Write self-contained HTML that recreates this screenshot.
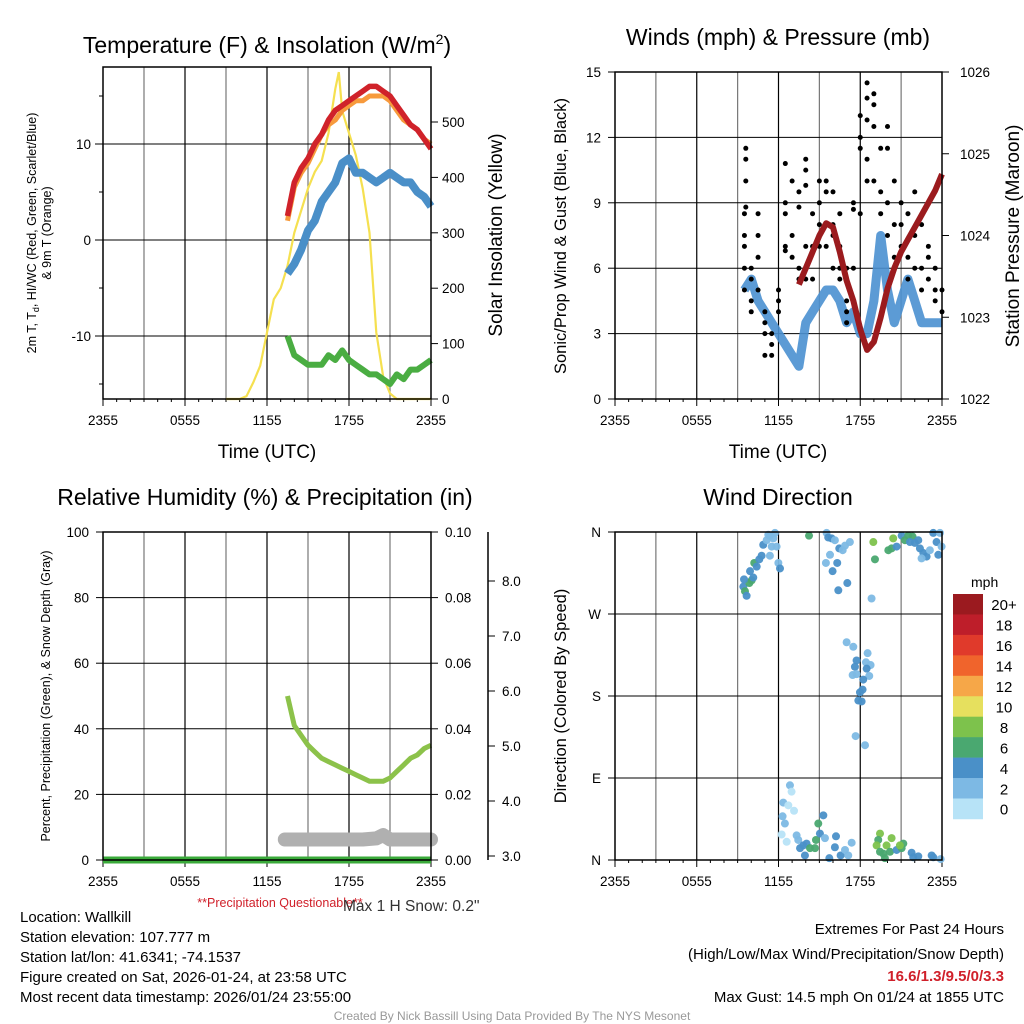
<!DOCTYPE html>
<html><head><meta charset="utf-8"><style>
body{margin:0;background:#fff;}
svg{display:block;font-family:"Liberation Sans",sans-serif;}
</style></head><body>
<svg id="c" width="1024" height="1024" viewBox="0 0 1024 1024">
<rect width="1024" height="1024" fill="#fff"/>
<g id="layer"></g>
<text x="267" y="53" font-size="23" text-anchor="middle">Temperature (F) &amp; Insolation (W/m<tspan dy="-9" font-size="14">2</tspan><tspan dy="9">)</tspan></text>
<text x="778" y="45" font-size="23" text-anchor="middle">Winds (mph) &amp; Pressure (mb)</text>
<text x="265" y="505" font-size="23" text-anchor="middle">Relative Humidity (%) &amp; Precipitation (in)</text>
<text x="778" y="505" font-size="23" text-anchor="middle">Wind Direction</text>
<text x="267" y="458" font-size="19" text-anchor="middle">Time (UTC)</text>
<text x="778" y="458" font-size="19" text-anchor="middle">Time (UTC)</text>
<text transform="translate(36,233) rotate(-90)" font-size="12.5" text-anchor="middle">2m T, T<tspan font-size="9" dy="3">d</tspan><tspan dy="-3">, HI/WC (Red, Green, Scarlet/Blue)</tspan></text>
<text transform="translate(51,233) rotate(-90)" font-size="12.5" text-anchor="middle">&amp; 9m T (Orange)</text>
<text transform="translate(502,235) rotate(-90)" font-size="19" text-anchor="middle">Solar Insolation (Yellow)</text>
<text transform="translate(566,236) rotate(-90)" font-size="16.5" text-anchor="middle">Sonic/Prop Wind &amp; Gust (Blue, Black)</text>
<text transform="translate(1019,236) rotate(-90)" font-size="19" text-anchor="middle">Station Pressure (Maroon)</text>
<text transform="translate(50,696) rotate(-90)" font-size="12.5" text-anchor="middle">Percent, Precipitation (Green), &amp; Snow Depth (Gray)</text>
<text transform="translate(566,696) rotate(-90)" font-size="16.5" text-anchor="middle">Direction (Colored By Speed)</text>
<text x="280" y="907" font-size="12.5" fill="#d0202a" text-anchor="middle">**Precipitation Questionable**</text>
<text x="343" y="911" font-size="15.5" fill="#333">Max 1 H Snow: 0.2"</text>
<g font-size="15">
<text x="20" y="922">Location: Wallkill</text>
<text x="20" y="942">Station elevation: 107.777 m</text>
<text x="20" y="962">Station lat/lon: 41.6341; -74.1537</text>
<text x="20" y="982">Figure created on Sat, 2026-01-24, at 23:58 UTC</text>
<text x="20" y="1002">Most recent data timestamp: 2026/01/24 23:55:00</text>
</g>
<g font-size="15" text-anchor="end">
<text x="1004" y="934">Extremes For Past 24 Hours</text>
<text x="1004" y="959">(High/Low/Max Wind/Precipitation/Snow Depth)</text>
<text x="1004" y="981" fill="#d0202a" font-weight="bold">16.6/1.3/9.5/0/3.3</text>
<text x="1004" y="1002">Max Gust: 14.5 mph On 01/24 at 1855 UTC</text>
</g>
<text x="512" y="1020" font-size="12" fill="#999" text-anchor="middle">Created By Nick Bassill Using Data Provided By The NYS Mesonet</text>
<text x="971" y="587" font-size="14">mph</text>
</svg>
<script>
const xTickLabels=["2355","0555","1155","1755","2355"];
const tempHours=[13.5,14,14.5,15,15.5,16,16.5,17,17.5,18,18.5,19,19.5,20,20.5,21,21.5,22,22.5,23,23.5,24];
const temp2m=[2.5,6,7.5,8.5,10,11,12.5,13.5,14,14.5,15,15.5,16,16,15.5,15,14,13,12,11.5,10.5,9.5];
const temp9m=[2,5.5,7,8,9.5,11,12,12.5,13.5,14,14.5,14.5,15,15,15,14.5,13.5,12.5,12,11.5,10.5,10];
const windChill=[-3.5,-2.5,-1,1,2,4,5,6,8,8.5,7,7,6.5,6,6.5,7,6.5,6,6,5,4.5,3.5];
const dewPoint=[-10,-12,-12.5,-13,-13,-13,-12,-12.5,-11.5,-12.5,-13,-13.5,-14,-14,-14.5,-15,-14,-14.5,-13.5,-13.5,-13,-12.5];
const solarHours=[9,9.5,10,10.5,11,11.5,12,12.5,13,13.5,14,14.5,15,15.5,16,16.5,17,17.25,17.5,18,18.5,19,19.5,20,20.5,21,21.5,22,24];
const solarVals=[0,0,0,5,30,60,120,180,200,240,300,340,380,410,430,480,560,590,520,480,440,380,300,120,40,10,0,0,0];
const tempTicks=[-10,0,10];
const solarTicks=[0,100,200,300,400,500];

const windHours=[9.5,10,10.5,11,11.5,12,12.5,13,13.5,14,14.5,15,15.5,16,16.5,17,17.5,18,18.5,19,19.5,20,20.5,21,21.5,22,22.5,23,23.5,24];
const windVals=[5,5.5,4.5,4,3.5,3,2.5,2,1.5,3.5,4,4.5,5,5,4.5,3.5,4,3,3,4.5,7.5,5,3.5,4.5,5.5,4.5,3.5,3.5,3.5,3.5];
const gustHours=[9.5,9.5,9.5,9.5,9.5,9.6,9.6,9.6,9.6,10,10,10,10,10.5,10.5,10.5,10.5,11,11,11,11,11.5,11.5,11.5,12,12,12,12.5,12.5,12.5,12.5,12.5,13,13,13,13.5,13.5,13.5,13.5,14,14,14,14,14,14.5,14.5,14.5,15,15,15,15,15.5,15.5,15.5,16,16,16,16,16.5,16.5,16.5,16.5,17,17,17,17,17.5,17.5,17.5,18,18,18,18,18.5,18.5,18.5,18.5,18.5,19,19,19,19,19.5,19.5,19.5,20,20,20,20,20.5,20.5,20.5,21,21,21,21.5,21.5,21.5,22,22,22,22.5,22.5,22.5,23,23,23,23.5,23.5,23.5,24,24];
const gustVals=[7.5,8.5,7,6,5,11,11.5,10,8.8,6,5.5,4.5,4,8.5,7.5,6.5,5,4,3.5,3,2,3,2.5,2,5,4,4.5,6.8,7,9,10.8,8.5,6.5,7.5,10,5.5,6,8.8,9.5,9.8,10.5,11,7,5.5,8.5,7,5.5,8,9,10,7,7,9.5,10,8,6,7.5,9.5,6,7,8.5,5.5,4.5,4,3.5,6,8.7,9,6,11.5,12,13,8.5,14.5,13.8,12.8,11,10,14,12.5,13.5,10,11.5,9.5,8.5,12.5,11.5,9,7.5,10,8,6.5,8,7,9,8.5,6.5,5.5,9.5,7.5,6,8,6,5,6.5,5.5,7,5,4.5,6,4,5];
const presHours=[13.5,14,14.5,15,15.5,16,16.5,17,17.5,18,18.5,19,19.5,20,20.5,21,21.5,22,22.5,23,23.5,24];
const presVals=[1023.4,1023.6,1023.8,1024.0,1024.15,1024.1,1023.8,1023.45,1023.2,1022.85,1022.6,1022.7,1023.0,1023.35,1023.6,1023.8,1023.95,1024.1,1024.25,1024.4,1024.55,1024.75];
const windTicks=[0,3,6,9,12,15];
const presTicks=[1022,1023,1024,1025,1026];

const rhHours=[13.5,14,14.5,15,15.5,16,16.5,17,17.5,18,18.5,19,19.5,20,20.5,21,21.5,22,22.5,23,23.5,24];
const rhVals=[50,41,38,35,33,31,30,29,28,27,26,25,24,24,24,25,27,29,31,32,34,35];
const precipHours=[0,24];
const precipVals=[0,0];
const snowHours=[13.3,14,15,16,17,18,19,20,20.5,21,22,23,24];
const snowVals=[3.3,3.3,3.3,3.3,3.3,3.3,3.3,3.32,3.38,3.3,3.3,3.3,3.3];
const rhTicks=[0,20,40,60,80,100];
const precipTicks=["0.00","0.02","0.04","0.06","0.08","0.10"];
const snowTicks=["3.0","4.0","5.0","6.0","7.0","8.0"];

const dirHours=[9.42,9.54,9.66,9.86,10.03,10.15,9.47,9.91,10.22,10.4,10.59,10.76,10.88,11.13,11.37,11.5,11.62,11.37,11.86,11.99,12.11,11.74,11.25,
14.24,15.53,15.65,15.9,16.14,15.78,15.48,15.97,16.31,16.46,16.71,16.88,17.24,16.39,17.05,18.83,18.96,19.08,
20.06,20.3,20.42,20.67,21.04,21.28,21.52,21.84,21.65,22.01,22.26,22.38,22.63,22.87,22.5,23.11,23.36,23.6,23.73,23.85,23.97,
17.0,17.49,18.54,17.73,17.61,18.42,18.76,18.47,17.44,17.73,18.66,18.22,18.17,17.98,17.86,18.1,17.66,18.35,
12.84,12.96,12.35,12.72,13.14,12.3,12.47,12.23,12.6,13.33,13.45,13.82,13.58,14.06,13.94,14.31,14.68,14.75,15.04,14.92,15.29,15.41,15.73,16.22,16.14,16.56,16.88,17.12,17.37,
19.45,19.32,19.2,19.45,19.69,19.93,19.81,20.3,20.18,20.67,21.04,21.16,20.91,21.77,21.89,22.26,23.24,23.36,23.9];
const dirDegrees=[300,295,290,304,307,310,308,317,326,322,330,334,346,351,356,344,353,334,344,326,320,359,357,
356,359,354,353,351,335,326,317,326,342,340,345,349,296,304,287,349,330,
340,342,353,344,356,351,356,355,349,348,351,342,337,333,331,340,359,349,335,359,344,
239,234,227,219,212,217,214,210,203,204,202,198,187,184,175,174,136,126,
82,75,63,60,54,48,40,28,20,27,22,16,13,18,5,13,13,22,29,40,49,24,2,26,14,5,11,5,19,
29,22,16,9,7,16,2,24,9,11,13,18,16,8,3,4,5,3,1];
const dirSpeeds=[5,7,5,7,7,5,5,5,7,5,5,5,5,3,3,3,3,3,3,3,5,3,3,
7,3,5,5,3,3,3,5,5,5,3,3,3,5,5,3,9,7,
7,7,9,5,5,7,7,7,5,5,5,5,5,5,3,3,5,5,5,3,3,
3,3,3,5,5,3,3,5,3,3,3,5,5,5,5,5,3,3,
3,1,3,1,1,3,3,1,1,3,3,5,5,5,5,7,7,7,5,7,5,3,5,5,5,5,3,3,3,
9,7,9,7,7,9,7,9,7,5,7,7,9,5,5,5,5,5,3];
const cbLabels=["20+","18","16","14","12","10","8","6","4","2","0"];
const cbColors=["#9b1a1f","#be1e2a","#e03a2b","#f0642c","#f6a748","#e6e05e","#7dc24c","#4aa870","#4a90c8","#7db9e4","#b7e3f7"];
const dirLabels=["N","E","S","W","N"];
const dirTicks=[0,90,180,270,360];

const NS="http://www.w3.org/2000/svg";
const layer=document.getElementById('layer');
function mk(tag,attrs,parent){const e=document.createElementNS(NS,tag);for(const k in attrs)e.setAttribute(k,attrs[k]);(parent||layer).appendChild(e);return e;}
function lin(d0,d1,r0,r1){return v=>r0+(v-d0)/(d1-d0)*(r1-r0);}
function pathD(xs,ys,fx,fy){return xs.map((h,i)=>(i?'L':'M')+fx(h).toFixed(1)+','+fy(ys[i]).toFixed(1)).join('');}
function frame(L,T,R,B,name){
  const g=mk('g',{});
  
  
  const fx=lin(0,24,L,R);
  for(let h=3;h<24;h+=3){const l=mk('line',{x1:fx(h),x2:fx(h),y1:T,y2:B,stroke:h%6?'#777':'#000','stroke-width':1.2},g);}
  for(let h=0;h<=24;h+=1){mk('line',{x1:fx(h),x2:fx(h),y1:B,y2:B+(h%6?3:7),stroke:'#000','stroke-width':1},g);}
  xTickLabels.forEach((s,i)=>{const t=mk('text',{x:fx(i*6),y:B+26,'font-size':13.5,'text-anchor':'middle'},g);t.textContent=s;});
  return {g,fx};
}
function box(L,T,R,B){mk('rect',{x:L,y:T,width:R-L,height:B-T,fill:'none',stroke:'#000','stroke-width':1.5});}

(function(){
  const L=103,T=67,R=431,B=399;
  const {fx}=frame(L,T,R,B,'temperature-plot');
  const fy=lin(0,10,240,144), fs=lin(0,500,399,122);
  tempTicks.forEach(v=>{mk('line',{x1:L,x2:R,y1:fy(v),y2:fy(v),stroke:'#000','stroke-width':1});
    const t=mk('text',{x:L-12,y:fy(v)+5,'font-size':13.5,'text-anchor':'end'});t.textContent=v;
    });
  for(let v=-15;v<=15;v+=5)mk('line',{x1:L-(v%10?4:8),x2:L,y1:fy(v),y2:fy(v),stroke:'#000'});
  solarTicks.forEach(v=>{mk('line',{x1:R,x2:R+7,y1:fs(v),y2:fs(v),stroke:'#000'});
    const t=mk('text',{x:R+11,y:fs(v)+5,'font-size':13.5});t.textContent=v;
    });
  let p;
  p=mk('path',{d:pathD(solarHours,solarVals,fx,fs),fill:'none',stroke:'#f5e050','stroke-width':2.2});
  p=mk('path',{d:pathD(tempHours,dewPoint,fx,fy),fill:'none',stroke:'#4aad42','stroke-width':6,'stroke-linejoin':'round'});
  p=mk('path',{d:pathD(tempHours,windChill,fx,fy),fill:'none',stroke:'#4a8fc8','stroke-width':8,'stroke-linejoin':'round'});
  p=mk('path',{d:pathD(tempHours,temp9m,fx,fy),fill:'none',stroke:'#f79a3c','stroke-width':5,'stroke-linejoin':'round'});
  p=mk('path',{d:pathD(tempHours,temp2m,fx,fy),fill:'none',stroke:'#d0222a','stroke-width':5.5,'stroke-linejoin':'round'});
  box(L,T,R,B);
})();

(function(){
  const L=615,T=72,R=942,B=399;
  const {fx}=frame(L,T,R,B,'wind-plot');
  const fy=lin(0,15,399,72), fp=lin(1022,1026,399,72);
  windTicks.forEach(v=>{if(v>0&&v<15)mk('line',{x1:L,x2:R,y1:fy(v),y2:fy(v),stroke:'#000','stroke-width':1});
    mk('line',{x1:L-7,x2:L,y1:fy(v),y2:fy(v),stroke:'#000'});
    const t=mk('text',{x:L-14,y:fy(v)+5,'font-size':13.5,'text-anchor':'end'});t.textContent=v;
    });
  presTicks.forEach(v=>{mk('line',{x1:R,x2:R+7,y1:fp(v),y2:fp(v),stroke:'#000'});
    const t=mk('text',{x:R+18,y:fp(v)+5,'font-size':13.5});t.textContent=v;
    });
  let p=mk('path',{d:pathD(windHours,windVals,fx,fy),fill:'none',stroke:'#4a90d0','stroke-width':9,'stroke-linejoin':'round','stroke-opacity':0.9});
  
  gustHours.forEach((h,i)=>{const c=mk('circle',{cx:fx(h),cy:fy(gustVals[i]),r:2.5,fill:'#000'});
    });
  p=mk('path',{d:pathD(presHours,presVals,fx,fp),fill:'none',stroke:'#9b1b1e','stroke-width':6,'stroke-linejoin':'round'});
  
  box(L,T,R,B);
})();

(function(){
  const L=103,T=532,R=431,B=860;
  const {fx}=frame(L,T,R,B,'humidity-plot');
  const fy=lin(0,100,860,532), fsn=lin(3,8,856,581);
  rhTicks.forEach((v,i)=>{if(v>0&&v<100)mk('line',{x1:L,x2:R,y1:fy(v),y2:fy(v),stroke:'#000','stroke-width':1});
    mk('line',{x1:L-7,x2:L,y1:fy(v),y2:fy(v),stroke:'#000'});
    const t=mk('text',{x:L-14,y:fy(v)+5,'font-size':13.5,'text-anchor':'end'});t.textContent=v;
    
    mk('line',{x1:R,x2:R+7,y1:fy(v),y2:fy(v),stroke:'#000'});
    const t2=mk('text',{x:R+14,y:fy(v)+5,'font-size':13.5});t2.textContent=precipTicks[i];
    });
  mk('line',{x1:488,x2:488,y1:532,y2:860,stroke:'#000','stroke-width':1.5});
  snowTicks.forEach(s=>{const y=fsn(parseFloat(s));mk('line',{x1:488,x2:495,y1:y,y2:y,stroke:'#000'});
    const t=mk('text',{x:502,y:y+5,'font-size':13.5});t.textContent=s;
    });
  let p=mk('path',{d:pathD(snowHours,snowVals,fx,fsn),fill:'none',stroke:'#b0b0b0','stroke-width':14,'stroke-linejoin':'round','stroke-linecap':'round'});
  
  p=mk('path',{d:pathD(precipHours,precipVals,fx,fy),fill:'none',stroke:'#3aaa3a','stroke-width':7});
  
  p=mk('path',{d:pathD(rhHours,rhVals,fx,fy),fill:'none',stroke:'#8cc24a','stroke-width':5,'stroke-linejoin':'round'});
  
  box(L,T,R,B);
})();

(function(){
  const L=615,T=532,R=942,B=860;
  const {fx}=frame(L,T,R,B,'direction-plot');
  const fy=lin(0,360,860,532);
  dirTicks.forEach((v,i)=>{if(v>0&&v<360)mk('line',{x1:L,x2:R,y1:fy(v),y2:fy(v),stroke:'#000','stroke-width':1});
    mk('line',{x1:L-7,x2:L,y1:fy(v),y2:fy(v),stroke:'#000'});
    const t=mk('text',{x:L-14,y:fy(v)+5,'font-size':13.5,'text-anchor':'end'});t.textContent=dirLabels[i];
    });
  dirHours.forEach((h,i)=>{const s=dirSpeeds[i];const bin=Math.min(10,Math.floor(s/2));
    const c=mk('circle',{cx:fx(h),cy:fy(dirDegrees[i]),r:4,fill:cbColors[10-bin],'fill-opacity':0.95});
    });
  box(L,T,R,B);
  const cb=mk('g',{});
  
  const h=20.45;
  cbColors.forEach((c,i)=>{mk('rect',{x:953,y:594+i*h,width:30,height:h+0.3,fill:c},cb);
    const t=mk('text',{x:1004,y:594+i*h+h/2+6,'font-size':15,'text-anchor':'middle'},cb);t.textContent=cbLabels[i];
    });
})();
</script>
</body></html>
